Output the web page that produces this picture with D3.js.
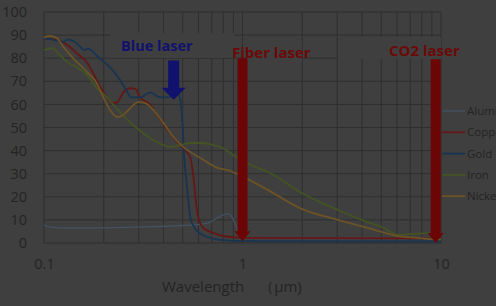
<!DOCTYPE html>
<html>
<head>
<meta charset="utf-8">
<script src="https://cdn.jsdelivr.net/npm/d3@7"></script>
<style>
  body { margin: 0; background: #3f3f3f; overflow: hidden; }
  text { font-family: "Open Sans", "Noto Sans", sans-serif; }
</style>
</head>
<body>
<div id="chart"></div>
<script>
// reflectance (%) vs wavelength (um)
var aluminium = [[0.1,7.8],[0.107,6.9],[0.131,6.5],[0.281,6.9],[0.566,7.8],[0.665,8.6],[0.774,11.6],[0.84,12.6],[0.89,11],[0.944,5.6],[1,2.6],[1.1,2.2],[10,2]];
var copper = [[0.1,88.5],[0.116,88],[0.131,85.7],[0.147,82],[0.165,78],[0.177,73.5],[0.192,67.5],[0.208,63],[0.22,60.6],[0.234,61],[0.25,65],[0.272,67],[0.288,66.7],[0.305,63],[0.335,60.6],[0.372,55.4],[0.418,49],[0.47,43.7],[0.503,41],[0.546,37],[0.566,28.5],[0.579,20],[0.6,11],[0.635,6.5],[0.714,4.3],[0.87,2.6],[1.1,2.2],[10,2]];
var gold = [[0.1,88.7],[0.11,88],[0.125,87],[0.131,88],[0.14,87.5],[0.152,85],[0.16,83.5],[0.167,84.2],[0.175,83],[0.185,81],[0.2,78.5],[0.215,76],[0.242,70.5],[0.26,66],[0.275,63],[0.305,63],[0.343,65.2],[0.385,63],[0.42,63],[0.475,64.5],[0.486,62],[0.498,52],[0.509,37],[0.527,23],[0.546,11],[0.57,7],[0.593,5],[0.665,2.6],[0.8,1.2],[1,0.8],[10,0.7]];
var iron = [[0.1,83.5],[0.111,84.4],[0.118,82],[0.131,78.4],[0.147,76],[0.165,72.7],[0.185,67],[0.208,63],[0.228,59],[0.25,55.4],[0.281,51],[0.316,47.6],[0.355,44.6],[0.399,42.4],[0.433,41.6],[0.486,42.4],[0.546,43.3],[0.635,43.3],[0.714,42.4],[0.8,41],[0.9,38],[1.1,33.8],[1.38,30.3],[1.96,22],[3.02,14.3],[4.28,9],[5.15,6.5],[6.07,3.5],[7.05,3.9],[8.6,4.3],[10,4.3]];
var nickel = [[0.1,89],[0.107,89.6],[0.116,88.7],[0.125,85],[0.14,80],[0.165,74],[0.185,69],[0.199,63],[0.215,57.6],[0.234,54.5],[0.25,55.4],[0.272,58.4],[0.298,61],[0.324,60.6],[0.355,57.6],[0.399,52],[0.448,46],[0.503,41.6],[0.614,36.8],[0.748,32.5],[0.84,31.6],[1.01,28.6],[1.34,23],[1.96,15],[3.02,10],[4.28,6.5],[6.07,3],[7.65,2.2],[8.9,1.7],[10,1.6]];

var seriesNames = ["Aluminium", "Copper", "Gold", "Iron", "Nickel"];
var seriesData = [aluminium, copper, gold, iron, nickel];
var seriesColors = ["#435162", "#661616", "#173452", "#435322", "#6b5327"];

var yTicks = [0, 10, 20, 30, 40, 50, 60, 70, 80, 90, 100];
var xTicks = [0.1, 1, 10];

// laser arrows: wavelength, top value, tip value
var lasers = [
  {name: "Blue laser", wl: 0.45, top: 79, tip: 62, color: "#11116e"},
  {name: "Fiber laser", wl: 1.0, top: 80, tip: 0.8, color: "#6c0606"},
  {name: "CO2 laser", wl: 9.4, top: 79.5, tip: 0, color: "#6c0606"}
];

var width = 496, height = 306;

var svg = d3.select("#chart")
  .append("svg")
    .attr("width", width)
    .attr("height", height);

var x = d3.scaleLog()
  .domain([0.1, 10])
  .range([44, 441]);

var y = d3.scaleLinear()
  .domain([0, 100])
  .range([243, 12]);

var gridColor = "#2f2f2f";
var textColor = "#242424";

// grid
svg.append("g")
  .selectAll("line")
  .data(x.ticks())
  .enter().append("line")
    .attr("x1", function(d) { return x(d); })
    .attr("x2", function(d) { return x(d); })
    .attr("y1", y(100))
    .attr("y2", y(0))
    .attr("stroke", gridColor)
    .attr("stroke-width", 1);

svg.append("g")
  .selectAll("line")
  .data(yTicks)
  .enter().append("line")
    .attr("x1", x(0.1))
    .attr("x2", x(10))
    .attr("y1", function(d) { return y(d); })
    .attr("y2", function(d) { return y(d); })
    .attr("stroke", gridColor)
    .attr("stroke-width", 1);

// label boxes hide part of the grid
svg.append("rect").attr("x", 110).attr("y", 33).attr("width", 124).attr("height", 25).attr("fill", "#3f3f3f");
svg.append("rect").attr("x", 246).attr("y", 40).attr("width", 56).attr("height", 22).attr("fill", "#3f3f3f");
svg.append("rect").attr("x", 338).attr("y", 37).attr("width", 103).attr("height", 22).attr("fill", "#3f3f3f");

// axes
var yAxis = svg.append("g")
  .attr("transform", "translate(" + x(0.1) + ",0)")
  .call(d3.axisLeft(y).tickValues(yTicks).tickSize(0).tickPadding(17));

var xAxis = svg.append("g")
  .attr("transform", "translate(0," + y(0) + ")")
  .call(d3.axisBottom(x).tickValues(xTicks).tickSize(0).tickPadding(16)
    .tickFormat(function(d) { return d3.format("")(d); }));

[yAxis, xAxis].forEach(function(g) {
  g.select(".domain").remove();
  g.selectAll("text")
    .attr("fill", textColor)
    .style("font-size", "14.5px");
});

svg.append("text")
  .attr("x", 162)
  .attr("y", 292)
  .attr("fill", textColor)
  .style("font-size", "15px")
  .text("Wavelength　（μm)");

// lines
var line = d3.line()
  .x(function(d) { return x(d[0]); })
  .y(function(d) { return y(d[1]); })
  .curve(d3.curveMonotoneX);

svg.append("g")
  .selectAll("path")
  .data(seriesData)
  .enter().append("path")
    .attr("d", line)
    .attr("fill", "none")
    .attr("stroke", function(d, i) { return seriesColors[i]; })
    .attr("stroke-width", function(d, i) { return i == 0 ? 1.3 : 1.8; });

// arrows
lasers.forEach(function(l) {
  var cx = x(l.wl), top = y(l.top), tip = y(l.tip);
  var big = l.name != "Blue laser";
  var sw = big ? 5 : 5.5, hw = big ? 8 : 12, hh = big ? 10 : 12;
  var pts = [[cx - sw, top], [cx + sw, top], [cx + sw, tip - hh], [cx + hw, tip - hh],
             [cx, tip], [cx - hw, tip - hh], [cx - sw, tip - hh]];
  svg.append("path")
    .attr("d", d3.line()(pts) + "Z")
    .attr("fill", l.color);
});

// laser labels
svg.append("text").attr("x", 121).attr("y", 51).attr("fill", "#11116e")
  .style("font-size", "14.5px").style("font-weight", "bold").text("Blue laser");
svg.append("text").attr("x", 232).attr("y", 58).attr("fill", "#6c0909")
  .style("font-size", "15px").style("font-weight", "bold").text("Fiber laser");
svg.append("text").attr("x", 389).attr("y", 56).attr("fill", "#6c0909")
  .style("font-size", "15px").style("font-weight", "bold").text("CO2 laser");

// legend
var legend = svg.append("g")
  .selectAll("g")
  .data(seriesNames)
  .enter().append("g")
    .attr("transform", function(d, i) { return "translate(442," + (111 + i * 21.3) + ")"; });

legend.append("line")
  .attr("x1", 0).attr("x2", 23)
  .attr("stroke", function(d, i) { return seriesColors[i]; })
  .attr("stroke-width", function(d, i) { return i == 0 ? 1.3 : 1.8; });

legend.append("text")
  .attr("x", 25)
  .attr("dy", "0.35em")
  .attr("fill", textColor)
  .style("font-size", "11.5px")
  .text(function(d) { return d; });
</script>
</body>
</html>
